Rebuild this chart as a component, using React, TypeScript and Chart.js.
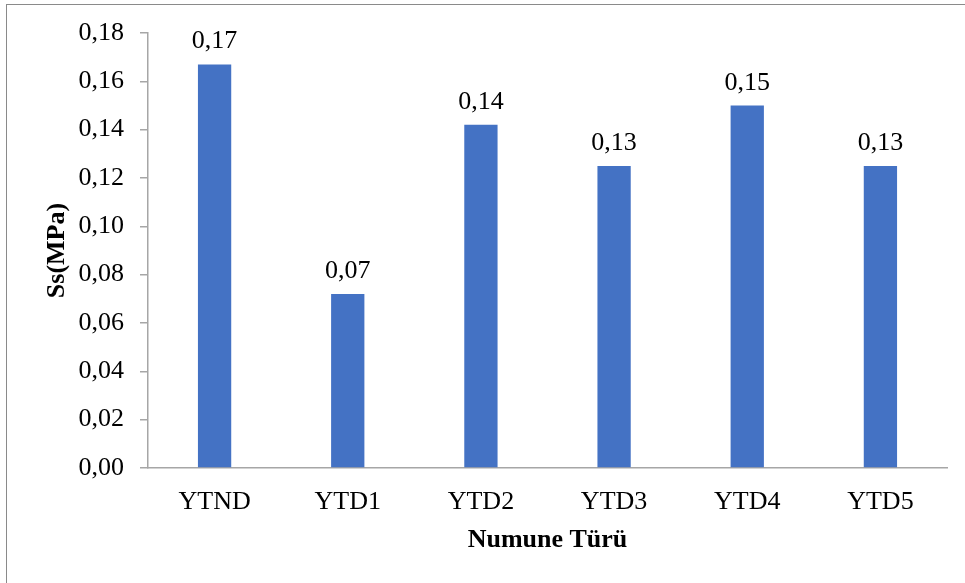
import React, { useEffect, useRef } from "react";
import { Chart, registerables } from "chart.js";

Chart.register(...registerables);

const categories = ["YTND", "YTD1", "YTD2", "YTD3", "YTD4", "YTD5"];
const ssValues = [0.167, 0.072, 0.142, 0.125, 0.15, 0.125];
const yTitle = "Ss(MPa)";
const xTitle = "Numune Türü";

const FONT = "'Liberation Serif', 'Times New Roman', serif";
const fmt = (v: number) => v.toFixed(2).replace(".", ",");

const overlayPlugin = {
  id: "overlay",
  afterDatasetsDraw(chart: any) {
    const ctx = chart.ctx;
    const meta = chart.getDatasetMeta(0);
    ctx.save();
    ctx.fillStyle = "#000";
    ctx.font = `26px ${FONT}`;
    ctx.textAlign = "center";
    ctx.textBaseline = "alphabetic";
    meta.data.forEach((bar: any, i: number) => {
      ctx.fillText(fmt(ssValues[i]), bar.x, bar.y - 16);
    });
    const a = chart.chartArea;
    ctx.font = `bold 26px ${FONT}`;
    ctx.textBaseline = "middle";
    ctx.fillText(xTitle, (a.left + a.right) / 2, 540);
    ctx.translate(57, (a.top + a.bottom) / 2);
    ctx.rotate(-Math.PI / 2);
    ctx.fillText(yTitle, 0, 0);
    ctx.restore();
  },
};

export default function App() {
  const ref = useRef<HTMLCanvasElement>(null);
  useEffect(() => {
    if (!ref.current) return;
    const chart = new Chart(ref.current, {
      type: "bar",
      data: {
        labels: categories,
        datasets: [
          {
            data: ssValues,
            backgroundColor: "#4472C4",
            categoryPercentage: 1,
            barPercentage: 0.25,
          },
        ],
      },
      options: {
        animation: false,
        responsive: false,
        maintainAspectRatio: false,
        layout: { padding: { top: 33, right: 18, left: 0, bottom: 0 } },
        plugins: { legend: { display: false }, tooltip: { enabled: false } },
        scales: {
          x: {
            grid: { display: false, drawTicks: false },
            border: { color: "#A6A6A6", width: 1.5 },
            ticks: { color: "#000", font: { family: FONT, size: 26 }, padding: 19 },
            afterFit: (s: any) => {
              s.height = 115;
            },
          },
          y: {
            min: 0,
            max: 0.18,
            grid: { drawOnChartArea: false, drawTicks: true, tickLength: 8, color: "#A6A6A6", lineWidth: 1.5 },
            border: { color: "#A6A6A6", width: 1.5 },
            ticks: {
              stepSize: 0.02,
              color: "#000",
              font: { family: FONT, size: 26 },
              padding: 16,
              callback: (v: any) => fmt(Number(v)),
            },
            afterFit: (s: any) => {
              s.width = 148;
            },
          },
        },
      },
      plugins: [overlayPlugin],
    });
    return () => chart.destroy();
  }, []);
  return (
    <div style={{ position: "fixed", left: 0, top: 0, width: 965, height: 583, background: "#fff" }}>
      <div
        style={{
          position: "absolute",
          left: 6,
          top: 4,
          right: 0,
          bottom: 0,
          borderTop: "1.5px solid #8a8a8a",
          borderLeft: "1.5px solid #8a8a8a",
        }}
      />
      <canvas ref={ref} width={965} height={583} style={{ position: "absolute", left: 0, top: 0 }} />
    </div>
  );
}
